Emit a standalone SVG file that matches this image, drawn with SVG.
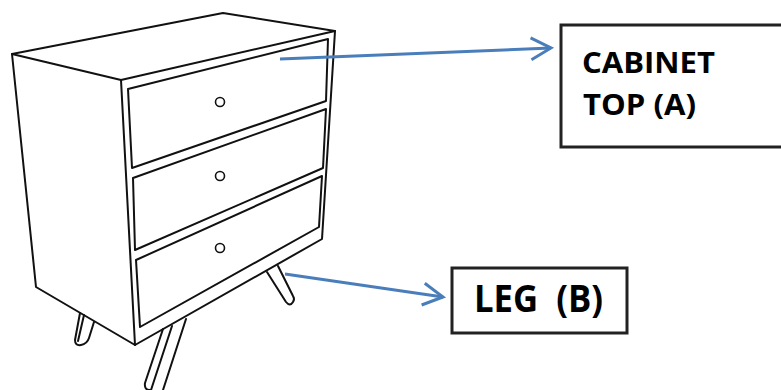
<svg xmlns="http://www.w3.org/2000/svg" width="781" height="390" viewBox="0 0 781 390">
<style>
.ln{fill:none;stroke:#111;stroke-width:2;stroke-linejoin:round;stroke-linecap:round}
.knob{fill:#fff;stroke:#111;stroke-width:1.6}
.con{fill:none;stroke:#4a7ebb;stroke-width:3}
.box{fill:#fff;stroke:#222;stroke-width:3}
.lbl{font-family:"Open Sans","Liberation Sans",sans-serif;font-weight:bold;fill:#000}
</style>
<defs>
<marker id="ah" markerUnits="userSpaceOnUse" markerWidth="30" markerHeight="30" viewBox="-25 -15 30 30" refX="0" refY="0" orient="auto">
<path d="M-20,-11 L0,0 L-20,11" fill="none" stroke="#4a7ebb" stroke-width="3"/>
</marker>
</defs>
<rect width="781" height="390" fill="#fff"/>
<g id="cabinet">
<path class="ln" d="M12,54 L223,13 L335,31 L121,80 Z"/>
<path class="ln" d="M12,54 L36,287 L135,345 L322,239 L335,31"/>
<path class="ln" d="M121,80 L135,345"/>
<path class="ln" d="M128,89 L328,39 L326,101 L132,168 Z"/>
<path class="ln" d="M133,178 L326,109 L323,168 L135,250 Z"/>
<path class="ln" d="M136,260 L322,176 L319,227 L140,327 Z"/>
<circle class="knob" cx="220" cy="102" r="4.5"/>
<circle class="knob" cx="220" cy="176" r="4.5"/>
<circle class="knob" cx="220" cy="248" r="4.5"/>
</g>
<g id="legs">
<path class="ln" d="M80,313 L75,340 Q75,346 81,345 Q87,344 89,338 L94,322"/>
<path class="ln" d="M84,315 L78,341"/>
<path class="ln" d="M163,329 L145,383 Q144,390 150,390"/>
<path class="ln" d="M172,326 L151,390"/>
<path class="ln" d="M186,319 L163,390"/>
<path class="ln" d="M267,272 L286,302 Q290,307 293,302 Q295,299 293,296 L278,266"/>
</g>
<g id="connectors">
<line class="con" x1="280" y1="59" x2="551" y2="48" marker-end="url(#ah)"/>
<line class="con" x1="285" y1="274" x2="443" y2="297" marker-end="url(#ah)"/>
</g>
<g id="nodeA">
<rect class="box" x="561" y="25" width="230" height="122"/>
<text class="lbl" x="582" y="73" font-size="29" textLength="133" lengthAdjust="spacingAndGlyphs">CABINET</text>
<text class="lbl" x="583" y="115" font-size="29" textLength="113" lengthAdjust="spacingAndGlyphs">TOP (A)</text>
</g>
<g id="nodeB">
<rect class="box" x="452" y="268" width="175" height="65"/>
<text class="lbl" x="474" y="312" font-size="37" textLength="129" lengthAdjust="spacingAndGlyphs" xml:space="preserve">LEG  (B)</text>
</g>
</svg>
